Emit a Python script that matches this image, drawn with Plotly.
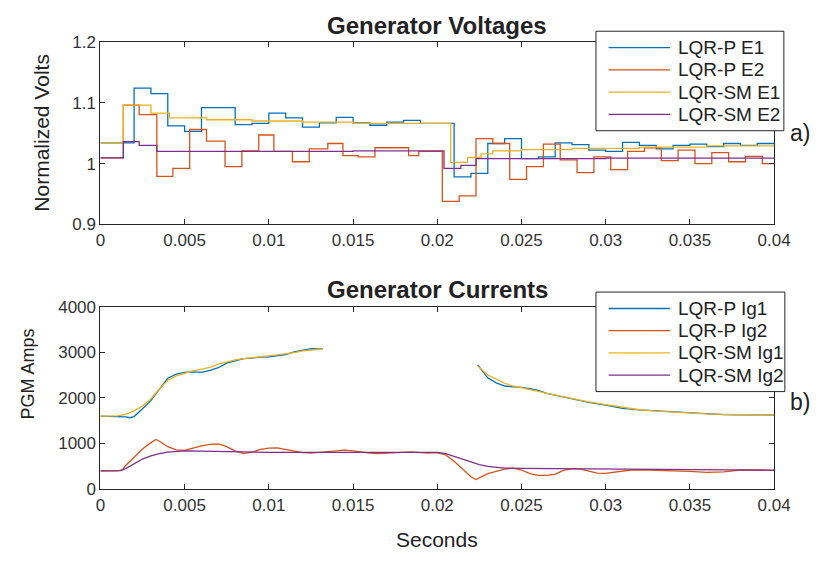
import plotly.graph_objects as go

W, H = 833, 561

# ---------------- Generator voltages (sampled, held between updates) ----------------
t_p_e1 = [0, 0.002, 0.003, 0.004, 0.005, 0.006, 0.008, 0.009, 0.010, 0.011, 0.012, 0.013,
          0.014, 0.015, 0.016, 0.017, 0.018, 0.019, 0.021, 0.022, 0.023, 0.024, 0.025,
          0.026, 0.027, 0.028, 0.029, 0.030, 0.031, 0.032, 0.033, 0.034, 0.035, 0.036,
          0.037, 0.038, 0.039, 0.040]
v_p_e1 = [1.034, 1.124, 1.115, 1.062, 1.053, 1.092, 1.064, 1.066, 1.083, 1.075, 1.060, 1.067,
          1.076, 1.067, 1.063, 1.068, 1.071, 1.066, 0.978, 0.984, 1.033, 1.041, 1.008,
          1.011, 1.034, 1.031, 1.022, 1.020, 1.035, 1.030, 1.024, 1.030, 1.032, 1.028,
          1.033, 1.030, 1.033, 1.033]

t_p_e2 = [0, 0.00136, 0.0023, 0.00335, 0.0043, 0.0053, 0.0063, 0.0074, 0.0084, 0.0094,
          0.0103, 0.0114, 0.0124, 0.0135, 0.0144, 0.0153, 0.0163, 0.0183, 0.0189, 0.0203,
          0.0213, 0.0223, 0.0233, 0.0243, 0.0253, 0.0263, 0.0273, 0.0283, 0.0293, 0.0303,
          0.0313, 0.0323, 0.0333, 0.0343, 0.0353, 0.0363, 0.0373, 0.0383, 0.0393, 0.040]
v_p_e2 = [1.0095, 1.096, 1.0805, 0.979, 0.992, 1.056, 1.037, 0.995, 1.021, 1.047,
          1.020, 1.003, 1.024, 1.033, 1.013, 1.011, 1.026, 1.013, 1.020, 0.938,
          0.947, 1.041, 1.033, 0.974, 0.995, 1.032, 1.006, 0.985, 1.011, 0.990,
          1.020, 1.026, 1.005, 1.022, 1.000, 1.018, 1.003, 1.012, 1.000, 1.000]

t_sm_e1 = [0, 0.00136, 0.0030, 0.0041, 0.0063, 0.009, 0.012, 0.015, 0.018, 0.0208, 0.0218,
           0.0226, 0.0233, 0.025, 0.028, 0.032, 0.036, 0.040]
v_sm_e1 = [1.034, 1.096, 1.083, 1.075, 1.072, 1.070, 1.068, 1.066, 1.066, 1.002, 1.010,
           1.016, 1.021, 1.023, 1.025, 1.027, 1.029, 1.029]

t_sm_e2 = [0, 0.00136, 0.0023, 0.00335, 0.010, 0.015, 0.0204, 0.0214, 0.0223, 0.030, 0.040]
v_sm_e2 = [1.0095, 1.036, 1.030, 1.020, 1.020, 1.021, 0.992, 0.997, 1.008, 1.009, 1.009]

# ---------------- Generator currents ----------------
t_ig1_a = [0, 0.0005, 0.001, 0.0015, 0.00175, 0.002, 0.0025, 0.003, 0.0035, 0.004, 0.0045,
           0.005, 0.0055, 0.006, 0.0065, 0.007, 0.0075, 0.008, 0.0085, 0.009, 0.0095, 0.010,
           0.0105, 0.011, 0.0115, 0.012, 0.0125, 0.013, 0.0132]
t_ig1_b = [0.0224, 0.023, 0.0235, 0.024, 0.0245, 0.025, 0.0255, 0.026, 0.0265, 0.027, 0.028,
           0.029, 0.030, 0.031, 0.032, 0.033, 0.034, 0.035, 0.036, 0.037, 0.038, 0.039, 0.040]

p_ig1_a = [1600, 1600, 1598, 1585, 1565, 1590, 1760, 1940, 2190, 2430, 2520,
           2560, 2570, 2560, 2600, 2660, 2760, 2810, 2860, 2870, 2895, 2900,
           2930, 2950, 3010, 3050, 3080, 3070, 3075]
p_ig1_b = [2720, 2440, 2330, 2260, 2240, 2230, 2200, 2165, 2100, 2060, 1975,
           1900, 1840, 1770, 1735, 1715, 1680, 1665, 1650, 1635, 1630, 1625, 1625]

sm_ig1_a = [1600, 1600, 1605, 1640, 1680, 1720, 1820, 1980, 2200, 2380, 2480,
            2540, 2590, 2630, 2670, 2740, 2790, 2830, 2860, 2885, 2905, 2920,
            2940, 2960, 2990, 3030, 3050, 3065, 3070]
sm_ig1_b = [2700, 2500, 2410, 2320, 2260, 2215, 2180, 2140, 2100, 2060, 1980,
            1910, 1850, 1790, 1740, 1710, 1685, 1665, 1650, 1640, 1632, 1628, 1625]

t_p_ig2 = [0, 0.001, 0.0013, 0.0015, 0.002, 0.0025, 0.003, 0.0033, 0.0035, 0.004, 0.0045,
           0.005, 0.0055, 0.006, 0.0065, 0.007, 0.0075, 0.008, 0.0085, 0.009, 0.0095, 0.010,
           0.0105, 0.011, 0.0115, 0.012, 0.0125, 0.013, 0.0135, 0.014, 0.0145, 0.015,
           0.0155, 0.016, 0.0165, 0.017, 0.0175, 0.018, 0.0185, 0.019, 0.0195, 0.020,
           0.0205, 0.021, 0.0215, 0.022, 0.0223, 0.0225, 0.023, 0.0235, 0.024, 0.0245,
           0.025, 0.0255, 0.026, 0.0265, 0.027, 0.0275, 0.028, 0.0285, 0.029, 0.0295,
           0.030, 0.0305, 0.031, 0.0315, 0.032, 0.033, 0.034, 0.035, 0.036, 0.037,
           0.038, 0.039, 0.040]
p_ig2 = [400, 400, 420, 520, 700, 880, 1020, 1090, 1050, 930, 860,
         850, 900, 950, 980, 990, 930, 840, 780, 810, 870, 900,
         905, 870, 830, 800, 790, 810, 830, 850, 855, 840,
         810, 790, 780, 790, 810, 820, 815, 800, 790, 800,
         750, 610, 440, 270, 210, 250, 340, 390, 440, 460,
         420, 340, 300, 300, 330, 410, 450, 440, 390, 350,
         345, 370, 400, 420, 425, 420, 400, 390, 370, 380,
         420, 420, 410]

t_sm_ig2 = [0, 0.001, 0.0012, 0.0015, 0.002, 0.0025, 0.003, 0.0035, 0.004, 0.0045, 0.005,
            0.006, 0.007, 0.008, 0.009, 0.010, 0.012, 0.014, 0.016, 0.018, 0.020, 0.0205,
            0.021, 0.0215, 0.022, 0.0225, 0.023, 0.0235, 0.024, 0.025, 0.027, 0.030,
            0.033, 0.036, 0.040]
sm_ig2 = [400, 400, 405, 450, 560, 660, 730, 780, 810, 830, 840,
          835, 825, 815, 810, 805, 805, 805, 805, 805, 805, 780,
          720, 650, 590, 540, 500, 475, 460, 455, 450, 445,
          435, 425, 415]

x_ticks = [0, 0.005, 0.01, 0.015, 0.02, 0.025, 0.03, 0.035, 0.04]
x_ticktext = ["0", "0.005", "0.01", "0.015", "0.02", "0.025", "0.03", "0.035", "0.04"]
v_ticks = [0.9, 1.0, 1.1, 1.2]
v_ticktext = ["0.9", "1", "1.1", "1.2"]
i_ticks = [0, 1000, 2000, 3000, 4000]
i_ticktext = ["0", "1000", "2000", "3000", "4000"]

volt_names = ["LQR-P E1", "LQR-P E2", "LQR-SM E1", "LQR-SM E2"]
curr_names = ["LQR-P Ig1", "LQR-P Ig2", "LQR-SM Ig1", "LQR-SM Ig2"]
colors = ["#0072BD", "#D95319", "#EDB120", "#7E2F8E"]

FONT = "Liberation Sans, Arial, sans-serif"
AX = "#262626"
TXT = "#222222"
LW = 1.3

fig = go.Figure()

# voltages: zero-order hold between controller updates
volt_t = [t_p_e1, t_p_e2, t_sm_e1, t_sm_e2]
volt_v = [v_p_e1, v_p_e2, v_sm_e1, v_sm_e2]
for t, v, name, col in zip(volt_t, volt_v, volt_names, colors):
    fig.add_trace(go.Scatter(x=t, y=v, name=name, mode="lines",
                             line=dict(color=col, width=LW, shape="hv"),
                             xaxis="x", yaxis="y"))

# currents: gaps where no samples were logged
t_ig1 = t_ig1_a + [None] + t_ig1_b
curr_t = [t_ig1, t_p_ig2, t_ig1, t_sm_ig2]
curr_v = [p_ig1_a + [None] + p_ig1_b, p_ig2, sm_ig1_a + [None] + sm_ig1_b, sm_ig2]
for t, v, name, col in zip(curr_t, curr_v, curr_names, colors):
    fig.add_trace(go.Scatter(x=t, y=v, name=name, mode="lines",
                             line=dict(color=col, width=LW), connectgaps=False,
                             xaxis="x2", yaxis="y2"))

x0, x1 = 98 / W, 790 / W
top_dom = [(H - 223) / H, (H - 34) / H]
bot_dom = [(H - 497) / H, (H - 308) / H]

axis_common = dict(showline=True, mirror="ticks", linecolor=AX, linewidth=1,
                   ticks="inside", ticklen=5, tickcolor=AX, showgrid=False,
                   zeroline=False, tickfont=dict(family=FONT, size=17, color="#333333"))

fig.update_layout(
    width=W, height=H, autosize=False,
    margin=dict(l=0, r=0, t=0, b=0),
    paper_bgcolor="white", plot_bgcolor="white",
    font=dict(family=FONT, color=TXT),
    showlegend=False,
    xaxis=dict(domain=[x0, x1], anchor="y", range=[0, 0.04],
               tickvals=x_ticks, ticktext=x_ticktext, **axis_common),
    yaxis=dict(domain=top_dom, anchor="x", range=[0.9, 1.2],
               tickvals=v_ticks, ticktext=v_ticktext, **axis_common),
    xaxis2=dict(domain=[x0, x1], anchor="y2", range=[0, 0.04],
                tickvals=x_ticks, ticktext=x_ticktext, **axis_common),
    yaxis2=dict(domain=bot_dom, anchor="x2", range=[0, 4000],
                tickvals=i_ticks, ticktext=i_ticktext, **axis_common),
)

def px(x):
    return x / W

def py(y):
    return (H - y) / H

def label(text, x, y, size, bold=False, angle=0, xanchor="center"):
    fig.add_annotation(text=f"<b>{text}</b>" if bold else text,
                       x=px(x), y=py(y), xref="paper", yref="paper",
                       showarrow=False, textangle=angle,
                       font=dict(family=FONT, size=size, color=TXT),
                       xanchor=xanchor, yanchor="middle")

def legend_box(names, left, top, right, bottom):
    """Boxed key: white panel, coloured line sample and series name per row."""
    fig.add_shape(type="rect", xref="paper", yref="paper",
                  x0=px(left), x1=px(right), y0=py(bottom), y1=py(top),
                  fillcolor="white", line=dict(color=AX, width=1), layer="above")
    row_gap = (bottom - top - 34) / (len(names) - 1)
    for k, (name, col) in enumerate(zip(names, colors)):
        yy = top + 17 + k * row_gap
        fig.add_shape(type="line", xref="paper", yref="paper",
                      x0=px(left + 13), x1=px(left + 76), y0=py(yy), y1=py(yy),
                      line=dict(color=col, width=LW), layer="above")
        label(name, left + 82, yy, 19, xanchor="left")

legend_box(volt_names, 607, 23, 800, 126)
legend_box(curr_names, 607, 293, 801, 396)

label("Generator Voltages", 444, 17, 24, bold=True)
label("Generator Currents", 444, 290, 24, bold=True)
label("Normalized Volts", 38, 128, 21, angle=-90)
label("PGM Amps", 24, 378, 18, angle=-90)
label("Seconds", 444, 549, 21)
label("a)", 817, 128, 23)
label("b)", 817, 407, 23)

fig.write_html("out.html")
